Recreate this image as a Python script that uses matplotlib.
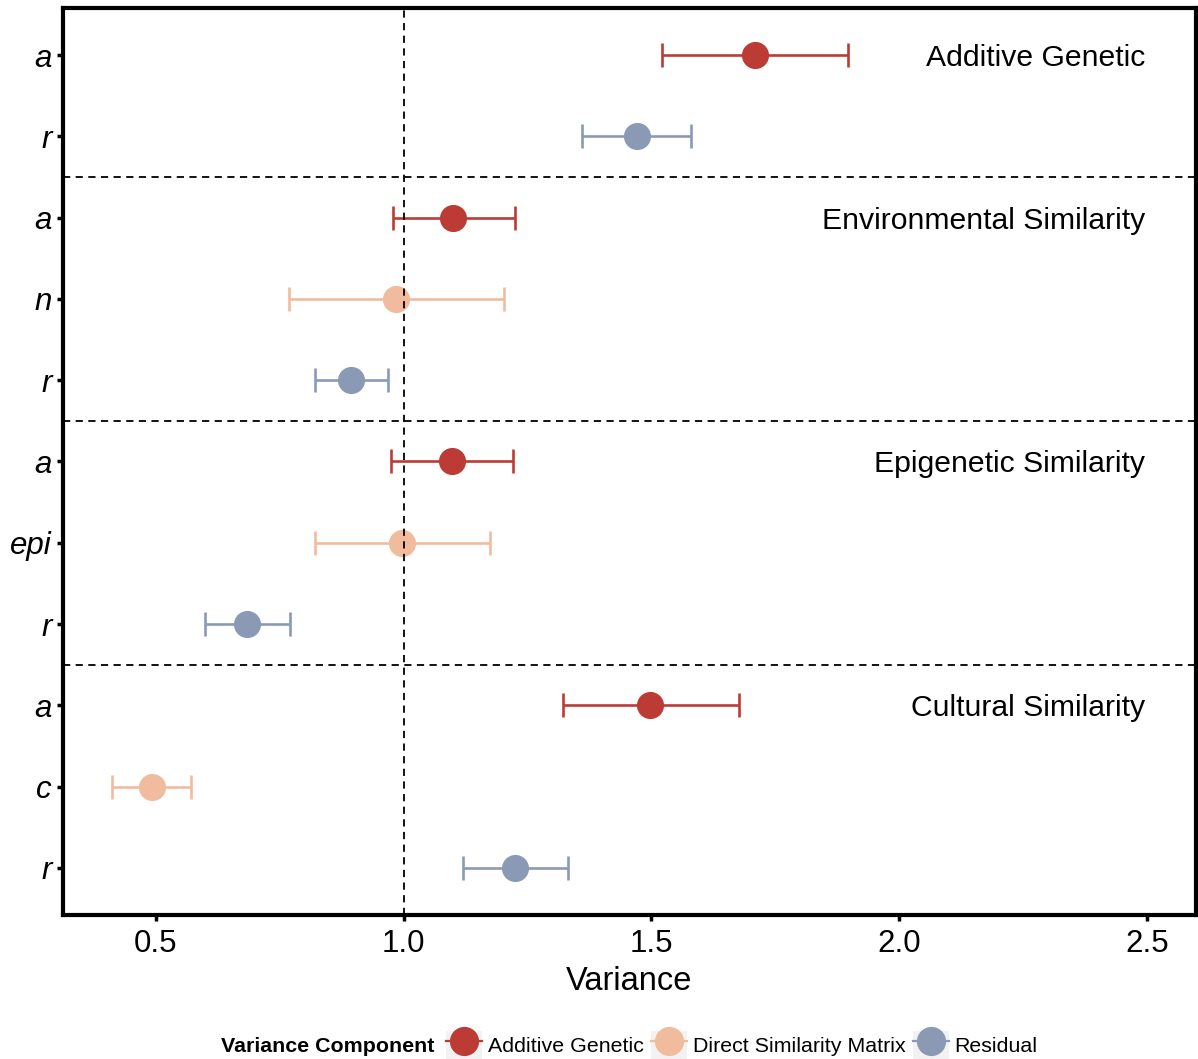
import matplotlib.pyplot as plt
from matplotlib.lines import Line2D
from matplotlib.patches import Rectangle
from matplotlib.legend_handler import HandlerTuple

plt.rcParams['font.family'] = ['Liberation Sans', 'DejaVu Sans']

# variance component estimates with 95% intervals, top to bottom
models = ["Additive Genetic", "Environmental Similarity",
          "Epigenetic Similarity", "Cultural Similarity"]
row_labels = ["a", "r", "a", "n", "r", "a", "epi", "r", "a", "c", "r"]
row_model = [0, 0, 1, 1, 1, 2, 2, 2, 3, 3, 3]
row_comp = ["Additive Genetic", "Residual",
            "Additive Genetic", "Direct Similarity Matrix", "Residual",
            "Additive Genetic", "Direct Similarity Matrix", "Residual",
            "Additive Genetic", "Direct Similarity Matrix", "Residual"]
estimate = [1.710, 1.470, 1.099, 0.984, 0.893, 1.097, 0.996, 0.683, 1.498, 0.492, 1.224]
lower = [1.522, 1.359, 0.978, 0.768, 0.821, 0.974, 0.821, 0.599, 1.321, 0.411, 1.119]
upper = [1.897, 1.579, 1.224, 1.202, 0.968, 1.220, 1.175, 0.770, 1.677, 0.571, 1.331]

palette = {"Additive Genetic": "#BC3B35",
           "Direct Similarity Matrix": "#F1BC9E",
           "Residual": "#8A9AB4"}

fig = plt.figure(figsize=(11.98, 10.59), dpi=100)
ax = fig.add_axes([63 / 1198, 1 - 915 / 1059, 1133 / 1198, 907 / 1059])

for i in range(len(row_labels)):
    c = palette[row_comp[i]]
    ax.errorbar(estimate[i], i, xerr=[[estimate[i] - lower[i]], [upper[i] - estimate[i]]],
                fmt='o', color=c, ecolor=c, elinewidth=1.9, capsize=8.6, capthick=1.9,
                markersize=18.5, zorder=3)

# group separators and reference line
for start in [2, 5, 8]:
    ax.axhline(start - 0.5, color='black', lw=1.3, ls=(0, (4, 3)), zorder=1)
ax.axvline(1.0, color='black', lw=1.3, ls=(0, (4, 3)), zorder=4)

# model names at the first row of each group
for m, name in enumerate(models):
    first = row_model.index(m)
    ax.text(2.496, first, name, ha='right', va='center_baseline', fontsize=21.7)

ax.set_xlim(0.3125, 2.599)
ax.set_ylim(10.58, -0.58)
ax.set_xticks([0.5, 1.0, 1.5, 2.0, 2.5])
ax.set_xticklabels(["0.5", "1.0", "1.5", "2.0", "2.5"], fontsize=22.5)
ax.set_yticks(range(len(row_labels)))
ax.set_yticklabels(row_labels, fontsize=22.5, fontstyle='italic')
ax.tick_params(length=4, width=2.5)
ax.tick_params(axis='x', pad=6)
ax.tick_params(axis='y', pad=4)
ax.set_xlabel("Variance", fontsize=23.5, labelpad=5)
for s in ax.spines.values():
    s.set_linewidth(3)

# legend keys: grey square with the point-range drawn on top
handles = [(Rectangle((0, 0), 1, 1, fc='#F2F2F2', ec='none'),
            Line2D([], [], color=palette[k], marker='o', markersize=20, lw=1.6))
           for k in palette]
fig.text(221 / 1198, 1 - 1044 / 1059, "Variance Component", fontsize=15.4,
         fontweight='bold', va='center_baseline', ha='left')
fig.legend(handles, list(palette), handler_map={tuple: HandlerTuple(ndivide=1, pad=0)},
           loc='center left', bbox_to_anchor=(446 / 1198, 1 - 1045 / 1059),
           ncol=3, frameon=False, fontsize=15.4, handlelength=1.68, handleheight=1.68,
           handletextpad=0.28, columnspacing=0.33, borderpad=0, borderaxespad=0)

fig.savefig("out.png", dpi=100)
